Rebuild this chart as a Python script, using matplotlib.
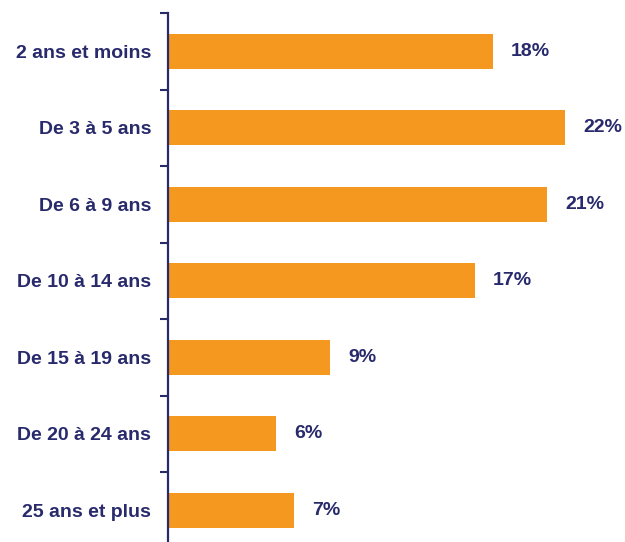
import matplotlib
matplotlib.use("Agg")
import matplotlib.pyplot as plt
from matplotlib.ticker import FixedLocator

categories = ["2 ans et moins", "De 3 à 5 ans", "De 6 à 9 ans", "De 10 à 14 ans",
              "De 15 à 19 ans", "De 20 à 24 ans", "25 ans et plus"]
values = [18, 22, 21, 17, 9, 6, 7]
value_labels = ["18%", "22%", "21%", "17%", "9%", "6%", "7%"]

navy = "#282A6C"
orange = "#F5981F"

plt.rcParams['font.family'] = ['Liberation Sans', 'DejaVu Sans']

fig = plt.figure(figsize=(6.25, 5.42), dpi=100)
ax = fig.add_axes([168/625, 1 - 548.5/542, 1 - 168/625, 535.5/542])

n = len(categories)
ypos = list(range(n))
ax.barh(ypos, values, height=0.46, color=orange)
ax.set_ylim(n - 0.5, -0.5)
ax.set_xlim(0, (625 - 168) / 18.05)

for y, v, lab in zip(ypos, values, value_labels):
    ax.annotate(lab, xy=(v, y), xytext=(13, 0), textcoords="offset points",
                ha="left", va="center", fontsize=14, fontweight="bold", color=navy)

ax.set_yticks(ypos)
ax.set_yticklabels(categories, fontsize=14, fontweight="bold", color=navy)
ax.tick_params(axis="y", which="major", length=0, pad=12)
ax.yaxis.set_minor_locator(FixedLocator([i - 0.5 for i in range(n + 1)]))
ax.tick_params(axis="y", which="minor", length=5.5, width=1.5, color=navy)

ax.set_xticks([])
for s in ["top", "right", "bottom"]:
    ax.spines[s].set_visible(False)
ax.spines["left"].set_color(navy)
ax.spines["left"].set_linewidth(1.6)

fig.savefig("out.png", dpi=100)
